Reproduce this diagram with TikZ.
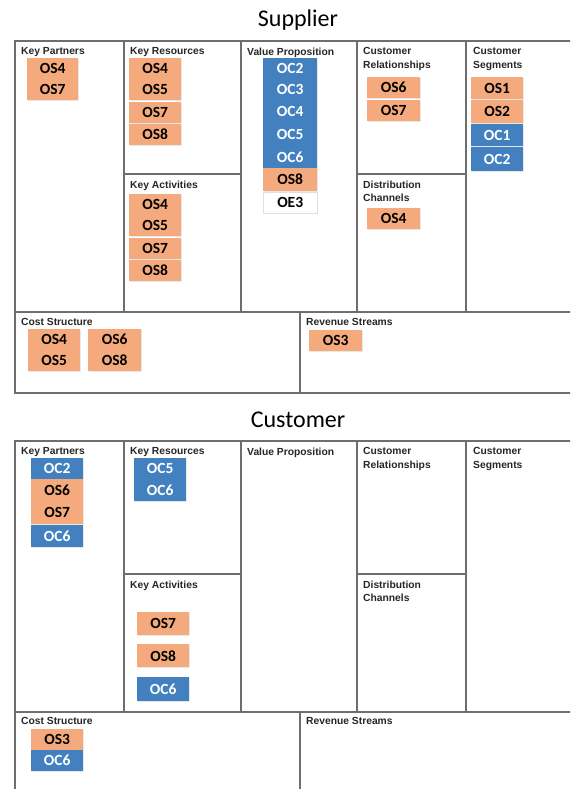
\documentclass[tikz,border=0pt]{standalone}
\usepackage{fontspec}
\setmainfont{Carlito}
\newfontfamily\headfont{Liberation Sans}
\newfontfamily\badgefont{Carlito}
\usetikzlibrary{shadows}
\definecolor{osorange}{RGB}{245,170,126}
\definecolor{ocblue}{RGB}{66,128,192}
\definecolor{gridline}{RGB}{110,110,110}
\tikzset{
  frame/.style={draw=gridline, line width=1.3pt},
  divider/.style={draw=gridline, line width=1.1pt},
  heading/.style={anchor=north west, inner sep=0pt, align=left,
    font=\headfont\bfseries\fontsize{10.3}{13.5}\selectfont, text=black!85},
  title/.style={anchor=base, inner sep=0pt, font=\fontsize{24}{26}\selectfont},
  badge/.style={anchor=north west, inner sep=0pt, minimum width=52pt,
    minimum height=21pt, font=\badgefont\bfseries\fontsize{15.5}{16}\selectfont,
    drop shadow={opacity=0.18, shadow xshift=0.8pt, shadow yshift=-1.2pt}},
  os/.style={badge, fill=osorange, text=black},
  oc/.style={badge, fill=ocblue, text=white},
  oe/.style={badge, fill=white, text=black, draw=black!12, line width=0.4pt},
}
\begin{document}
\begin{tikzpicture}[x=1pt, y=-1pt]
\useasboundingbox (0,0) rectangle (570,789);
\clip (0,0) rectangle (570,789);

% ---------------- Supplier canvas ----------------
\node[title] (tsup) at (298,27) {Supplier};
\draw[frame] (15,41) rectangle (580,393);
\draw[divider] (15,312) -- (580,312);
\draw[divider] (124,41) -- (124,312);
\draw[divider] (241,41) -- (241,312);
\draw[divider] (357,41) -- (357,312);
\draw[divider] (466,41) -- (466,312);
\draw[divider] (124,174) -- (241,174);
\draw[divider] (357,174) -- (466,174);
\draw[divider] (300,312) -- (300,393);

\node[heading] (skp) at (21,47.5) {Key Partners};
\node[heading] (skr) at (130,47.5) {Key Resources};
\node[heading] (skv) at (247,47.5) {Value Proposition};
\node[heading] (scr) at (363,47.5) {Customer\\Relationships};
\node[heading] (scs) at (473,47.5) {Customer\\Segments};
\node[heading] (ska) at (130,180.5) {Key Activities};
\node[heading] (sdc) at (363,180.5) {Distribution\\Channels};
\node[heading] (scost) at (21,318.5) {Cost Structure};
\node[heading] (srev) at (306,318.5) {Revenue Streams};

% Key Partners
\node[os, minimum width=51pt] (skp1) at (27,58) {OS4};
\node[os, minimum width=51pt] (skp2) at (27,79) {OS7};
% Key Resources
\node[os] (skr1) at (129,58) {OS4};
\node[os] (skr2) at (129,79) {OS5};
\node[os] (skr3) at (129,102) {OS7};
\node[os] (skr4) at (129,124) {OS8};
% Key Activities
\node[os] (ska1) at (129,194) {OS4};
\node[os] (ska2) at (129,215) {OS5};
\node[os] (ska3) at (129,238) {OS7};
\node[os] (ska4) at (129,260) {OS8};
% Value Proposition
\node[oc, minimum width=54pt] (svp1) at (263,58) {OC2};
\node[oc, minimum width=54pt] (svp2) at (263,79) {OC3};
\node[oc, minimum width=54pt, minimum height=23pt] (svp3) at (263,100) {OC4};
\node[oc, minimum width=54pt, minimum height=23pt] (svp4) at (263,123) {OC5};
\node[oc, minimum width=54pt, minimum height=22pt] (svp5) at (263,146) {OC6};
\node[os, minimum width=54pt, minimum height=23pt] (svp6) at (263,168) {OS8};
\node[oe, minimum width=54pt] (svp7) at (263,192) {OE3};
% Customer Relationships
\node[os, minimum width=53pt] (scr1) at (367,77) {OS6};
\node[os, minimum width=53pt] (scr2) at (367,100) {OS7};
% Customer Segments
\node[os, minimum height=22pt] (scs1) at (471,77) {OS1};
\node[os, minimum height=23pt] (scs2) at (471,100) {OS2};
\node[oc, minimum height=22pt] (scs3) at (471,124) {OC1};
\node[oc, minimum height=24pt] (scs4) at (471,147) {OC2};
% Distribution Channels
\node[os, minimum width=53pt] (sdc1) at (367,208) {OS4};
% Cost Structure
\node[os] (sco1) at (28,329) {OS4};
\node[os] (sco2) at (28,350) {OS5};
\node[os, minimum width=53pt] (sco3) at (88,329) {OS6};
\node[os, minimum width=53pt] (sco4) at (88,350) {OS8};
% Revenue Streams
\node[os, minimum width=53pt] (srv1) at (309,330) {OS3};

% ---------------- Customer canvas ----------------
\node[title] (tcus) at (298,427) {Customer};
\draw[frame] (15,441) rectangle (580,800);
\draw[divider] (15,712) -- (580,712);
\draw[divider] (124,441) -- (124,712);
\draw[divider] (241,441) -- (241,712);
\draw[divider] (357,441) -- (357,712);
\draw[divider] (466,441) -- (466,712);
\draw[divider] (124,574) -- (241,574);
\draw[divider] (357,574) -- (466,574);
\draw[divider] (300,712) -- (300,800);

\node[heading] (ckp) at (21,447.5) {Key Partners};
\node[heading] (ckr) at (130,447.5) {Key Resources};
\node[heading] (ckv) at (247,447.5) {Value Proposition};
\node[heading] (ccr) at (363,447.5) {Customer\\Relationships};
\node[heading] (ccs) at (473,447.5) {Customer\\Segments};
\node[heading] (cka) at (130,580.5) {Key Activities};
\node[heading] (cdc) at (363,580.5) {Distribution\\Channels};
\node[heading] (ccost) at (21,717.5) {Cost Structure};
\node[heading] (crev) at (306,717.5) {Revenue Streams};

% Key Partners
\node[oc] (ckp1) at (31,458) {OC2};
\node[os, minimum height=22pt] (ckp2) at (31,479) {OS6};
\node[os, minimum height=23pt] (ckp3) at (31,501) {OS7};
\node[oc, minimum height=22pt] (ckp4) at (31,525) {OC6};
% Key Resources
\node[oc] (ckr1) at (134,458) {OC5};
\node[oc, minimum height=22pt] (ckr2) at (134,479) {OC6};
% Key Activities
\node[os, minimum height=23pt] (cka1) at (137,612) {OS7};
\node[os, minimum height=23pt] (cka2) at (137,644) {OS8};
\node[oc, minimum height=24pt] (cka3) at (137,677) {OC6};
% Cost Structure
\node[os] (cco1) at (31,729) {OS3};
\node[oc] (cco2) at (31,750) {OC6};
\end{tikzpicture}
\end{document}
